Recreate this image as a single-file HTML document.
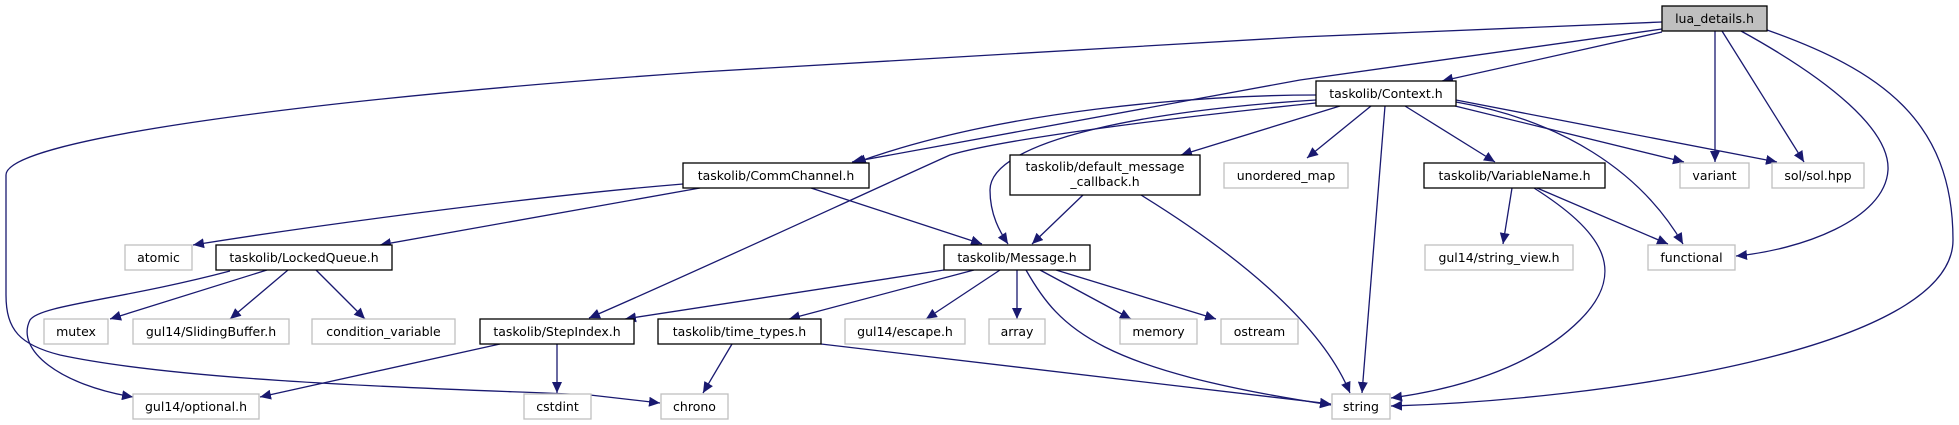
<!DOCTYPE html>
<html><head><meta charset="utf-8"><style>
html,body{margin:0;padding:0;background:#fff;}
svg{display:block;}
text{font-family:"DejaVu Sans","Liberation Sans",sans-serif;font-size:12.5px;fill:#000;}
.e{fill:none;stroke:#191970;stroke-width:1.3;marker-end:url(#a);}
.n{fill:#fff;stroke:#000;stroke-width:1.3;}
.g{fill:#fff;stroke:#bfbfbf;stroke-width:1.3;}
</style></head><body>
<svg width="1959" height="425" viewBox="0 0 1959 425" xmlns="http://www.w3.org/2000/svg">
<defs><marker id="a" markerUnits="userSpaceOnUse" markerWidth="12" markerHeight="10" refX="11" refY="5" orient="auto"><path d="M0,0 L11,5 L0,10 Z" fill="#191970"/></marker></defs>
<path class="e" d="M1662,22 L1300,37 L700,72 C300,100 6,140 6,175 L6,295 C6,330 20,345 60,355 C200,385 500,390 590,395 L660,403"/>
<path class="e" d="M1662,29 L1300,80 L852,162"/>
<path class="e" d="M1662,32 L1442,81"/>
<path class="e" d="M1715,31 L1715,162"/>
<path class="e" d="M1722,31 L1804,162"/>
<path class="e" d="M1741,31 C1830,80 1890,130 1888,170 C1885,220 1800,250 1736,256"/>
<path class="e" d="M1767,30 C1880,70 1953,120 1953,240 C1953,350 1600,400 1391,406"/>
<path class="e" d="M1316,95 C1200,95 1000,110 855,163"/>
<path class="e" d="M1316,100 C1150,110 990,140 990,190 C990,215 1000,232 1008,244"/>
<path class="e" d="M1316,103 C1150,120 1000,140 950,155 C850,200 700,270 589,318"/>
<path class="e" d="M1340,106 L1181,155"/>
<path class="e" d="M1371,106 L1307,158"/>
<path class="e" d="M1385,106 L1362,393"/>
<path class="e" d="M1405,106 L1495,162"/>
<path class="e" d="M1455,106 L1684,162"/>
<path class="e" d="M1456,100 L1777,162"/>
<path class="e" d="M1456,102 C1560,120 1640,170 1683,244"/>
<path class="e" d="M683,184 C550,195 350,220 193,245"/>
<path class="e" d="M700,188 L380,245"/>
<path class="e" d="M811,188 L982,244"/>
<path class="e" d="M1083,195 L1032,244"/>
<path class="e" d="M1141,195 C1230,250 1320,320 1350,393"/>
<path class="e" d="M944,270 L625,319"/>
<path class="e" d="M974,270 L789,319"/>
<path class="e" d="M1000,270 L926,319"/>
<path class="e" d="M1017,270 L1017,319"/>
<path class="e" d="M1040,270 L1131,319"/>
<path class="e" d="M1056,270 L1216,319"/>
<path class="e" d="M1026,270 C1060,330 1100,370 1331,405"/>
<path class="e" d="M230,271 C120,300 40,305 30,320 C15,350 60,385 133,397"/>
<path class="e" d="M267,270 L110,319"/>
<path class="e" d="M288,270 L230,319"/>
<path class="e" d="M316,270 L365,319"/>
<path class="e" d="M500,344 L260,397"/>
<path class="e" d="M557,344 L557,393"/>
<path class="e" d="M732,344 L703,393"/>
<path class="e" d="M821,344 L1331,404"/>
<path class="e" d="M1512,188 L1503,244"/>
<path class="e" d="M1537,188 L1668,244"/>
<path class="e" d="M1534,188 C1600,230 1630,270 1580,320 C1530,370 1450,390 1391,398"/>
<rect x="1662" y="6" width="105" height="25" fill="#bfbfbf" stroke="#000" stroke-width="1.3"/><text x="1714.5" y="23" text-anchor="middle">lua_details.h</text>
<rect class="n" x="1316" y="81" width="140" height="25"/><text x="1386" y="98" text-anchor="middle">taskolib/Context.h</text>
<rect class="n" x="683" y="163" width="186" height="25"/><text x="776" y="180" text-anchor="middle">taskolib/CommChannel.h</text>
<rect class="n" x="1010" y="155" width="190" height="40"/><text x="1105" y="171" text-anchor="middle">taskolib/default_message</text><text x="1105" y="186" text-anchor="middle">_callback.h</text>
<rect class="g" x="1224" y="163" width="124" height="25"/><text x="1286" y="180" text-anchor="middle">unordered_map</text>
<rect class="n" x="1424" y="163" width="181" height="25"/><text x="1514.5" y="180" text-anchor="middle">taskolib/VariableName.h</text>
<rect class="g" x="1680" y="163" width="69" height="25"/><text x="1714.5" y="180" text-anchor="middle">variant</text>
<rect class="g" x="1772" y="163" width="92" height="25"/><text x="1818" y="180" text-anchor="middle">sol/sol.hpp</text>
<rect class="g" x="125" y="245" width="67" height="25"/><text x="158.5" y="262" text-anchor="middle">atomic</text>
<rect class="n" x="216" y="245" width="176" height="25"/><text x="304" y="262" text-anchor="middle">taskolib/LockedQueue.h</text>
<rect class="n" x="944" y="245" width="146" height="25"/><text x="1017" y="262" text-anchor="middle">taskolib/Message.h</text>
<rect class="g" x="1425" y="245" width="148" height="25"/><text x="1499" y="262" text-anchor="middle">gul14/string_view.h</text>
<rect class="g" x="1648" y="245" width="87" height="25"/><text x="1691.5" y="262" text-anchor="middle">functional</text>
<rect class="g" x="44" y="319" width="64" height="25"/><text x="76" y="336" text-anchor="middle">mutex</text>
<rect class="g" x="133" y="319" width="156" height="25"/><text x="211" y="336" text-anchor="middle">gul14/SlidingBuffer.h</text>
<rect class="g" x="312" y="319" width="143" height="25"/><text x="383.5" y="336" text-anchor="middle">condition_variable</text>
<rect class="n" x="480" y="319" width="154" height="25"/><text x="557" y="336" text-anchor="middle">taskolib/StepIndex.h</text>
<rect class="n" x="658" y="319" width="163" height="25"/><text x="739.5" y="336" text-anchor="middle">taskolib/time_types.h</text>
<rect class="g" x="845" y="319" width="120" height="25"/><text x="905" y="336" text-anchor="middle">gul14/escape.h</text>
<rect class="g" x="989" y="319" width="56" height="25"/><text x="1017" y="336" text-anchor="middle">array</text>
<rect class="g" x="1120" y="319" width="77" height="25"/><text x="1158.5" y="336" text-anchor="middle">memory</text>
<rect class="g" x="1221" y="319" width="77" height="25"/><text x="1259.5" y="336" text-anchor="middle">ostream</text>
<rect class="g" x="133" y="394" width="126" height="25"/><text x="196" y="411" text-anchor="middle">gul14/optional.h</text>
<rect class="g" x="524" y="394" width="67" height="25"/><text x="557.5" y="411" text-anchor="middle">cstdint</text>
<rect class="g" x="661" y="394" width="67" height="25"/><text x="694.5" y="411" text-anchor="middle">chrono</text>
<rect class="g" x="1332" y="394" width="58" height="25"/><text x="1361" y="411" text-anchor="middle">string</text>
</svg>
</body></html>
